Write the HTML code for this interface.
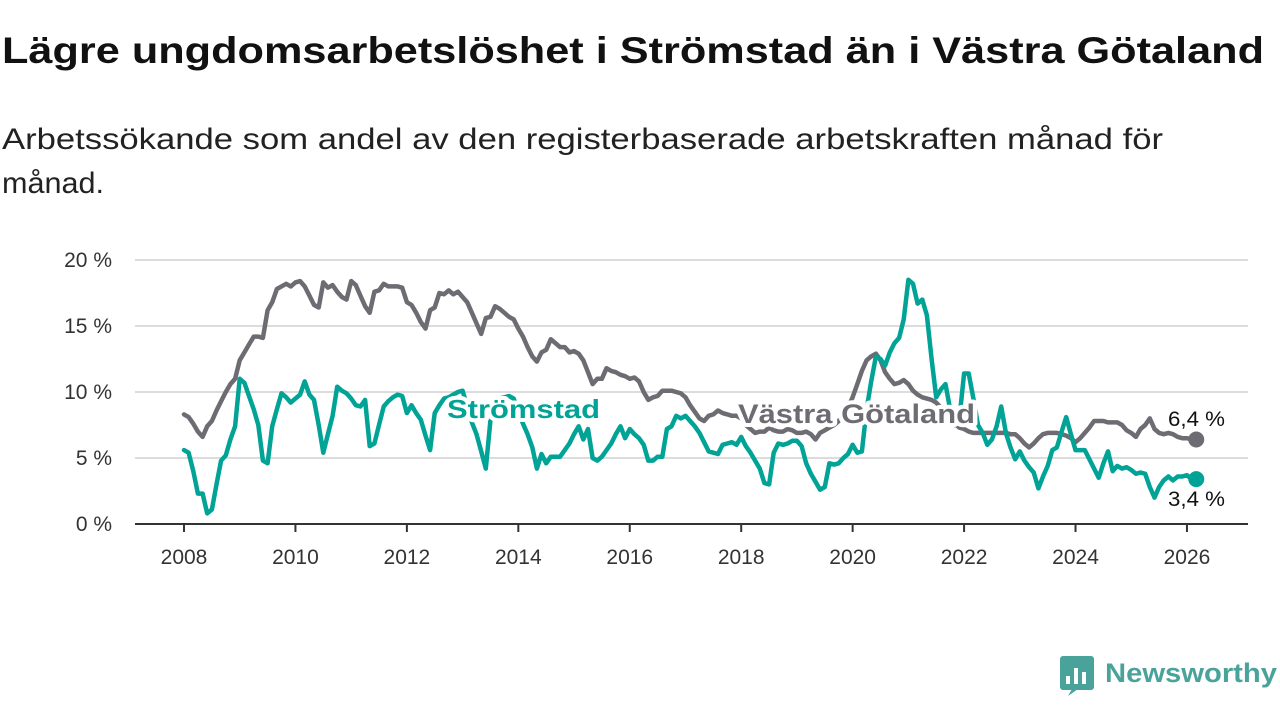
<!DOCTYPE html>
<html><head><meta charset="utf-8">
<style>
body{margin:0;width:1280px;height:720px;background:#fff;overflow:hidden;font-family:"Liberation Sans",sans-serif;}
svg{position:absolute;left:0;top:0}
</style></head><body>
<svg id="chart" width="1280" height="720">
<text x="2" y="63" font-size="37" font-weight="bold" fill="#111" textLength="1262" lengthAdjust="spacingAndGlyphs" font-family="Liberation Sans, sans-serif">Lägre ungdomsarbetslöshet i Strömstad än i Västra Götaland</text>
<text x="2" y="149" font-size="30" fill="#222" textLength="1161" lengthAdjust="spacingAndGlyphs" font-family="Liberation Sans, sans-serif">Arbetssökande som andel av den registerbaserade arbetskraften månad för</text>
<text x="2" y="193" font-size="30" fill="#222" textLength="102" lengthAdjust="spacingAndGlyphs" font-family="Liberation Sans, sans-serif">månad.</text>
</svg>
<script>
const startYear = 2008;
const yTicks = [0,5,10,15,20];
const yTickLabels = ["0 %","5 %","10 %","15 %","20 %"];
const xTicks = [2008,2010,2012,2014,2016,2018,2020,2022,2024,2026];
const vgValues = [
8.3,8.1,7.6,7.0,6.6,7.4,7.8,8.6,9.3,10.0,10.6,11.0,
12.4,13.0,13.6,14.2,14.2,14.1,16.2,16.8,17.8,18.0,18.2,18.0,
18.3,18.4,18.0,17.3,16.6,16.4,18.3,17.9,18.1,17.6,17.2,17.0,
18.4,18.1,17.3,16.5,16.0,17.6,17.7,18.2,18.0,18.0,18.0,17.9,
16.8,16.6,16.0,15.3,14.8,16.2,16.4,17.5,17.4,17.7,17.4,17.6,
17.2,16.8,16.0,15.2,14.4,15.6,15.7,16.5,16.3,16.0,15.7,15.5,
14.8,14.2,13.4,12.7,12.3,13.0,13.2,14.0,13.7,13.4,13.4,13.0,
13.1,12.9,12.4,11.5,10.6,11.0,11.0,11.8,11.6,11.5,11.3,11.2,
11.0,11.1,10.8,10.0,9.4,9.6,9.7,10.1,10.1,10.1,10.0,9.9,
9.6,9.0,8.5,8.0,7.8,8.2,8.3,8.6,8.4,8.3,8.2,8.2,
8.0,7.5,7.2,6.9,7.0,7.0,7.3,7.1,7.0,7.0,7.2,7.1,
6.9,6.9,7.0,6.8,6.4,6.9,7.1,7.3,7.5,7.8,8.3,8.8,
9.6,10.6,11.6,12.4,12.7,12.9,12.4,11.5,11.0,10.6,10.7,10.9,
10.6,10.1,9.8,9.6,9.5,9.4,9.2,8.8,8.4,8.0,7.6,7.3,
7.2,7.0,6.9,6.9,6.9,6.9,6.9,6.9,6.9,6.9,6.8,6.8,
6.5,6.1,5.8,6.1,6.5,6.8,6.9,6.9,6.9,6.8,6.7,6.5,
6.2,6.5,6.9,7.3,7.8,7.8,7.8,7.7,7.7,7.7,7.5,7.1,
6.9,6.6,7.2,7.5,8.0,7.2,6.9,6.8,6.9,6.8,6.6,6.5,
6.5,6.4,6.4];
const stValues = [
5.6,5.4,4.0,2.3,2.3,0.8,1.1,3.0,4.8,5.2,6.4,7.4,
11.0,10.7,9.7,8.7,7.5,4.8,4.6,7.4,8.7,9.9,9.6,9.2,
9.5,9.8,10.8,9.8,9.4,7.5,5.4,6.8,8.2,10.4,10.1,9.9,
9.5,9.0,8.9,9.4,5.9,6.1,7.5,8.9,9.3,9.6,9.8,9.7,
8.4,9.0,8.4,7.9,6.7,5.6,8.4,9.0,9.5,9.6,9.8,10.0,
10.1,8.9,7.7,6.8,5.5,4.2,7.9,8.8,9.5,9.6,9.7,9.5,
8.5,7.6,6.8,5.8,4.2,5.3,4.6,5.1,5.1,5.1,5.6,6.1,
6.8,7.4,6.4,7.2,5.0,4.8,5.1,5.6,6.1,6.8,7.4,6.5,
7.2,6.8,6.5,6.0,4.8,4.8,5.1,5.1,7.2,7.4,8.2,8.0,
8.2,7.8,7.4,6.9,6.2,5.5,5.4,5.3,6.0,6.1,6.2,6.0,
6.6,5.9,5.4,4.8,4.2,3.1,3.0,5.4,6.1,6.0,6.1,6.3,
6.3,5.9,4.6,3.8,3.2,2.6,2.8,4.6,4.5,4.6,5.0,5.3,
6.0,5.4,5.5,8.7,10.8,12.7,12.5,12.0,13.0,13.7,14.1,15.5,
18.5,18.2,16.7,17.0,15.8,12.5,9.6,10.2,10.6,8.7,7.5,8.0,
11.4,11.4,9.5,7.5,6.9,6.0,6.4,7.4,8.9,6.9,5.8,4.9,
5.5,4.8,4.3,3.9,2.7,3.6,4.4,5.6,5.8,7.0,8.1,6.8,
5.6,5.6,5.6,4.9,4.2,3.5,4.6,5.5,4.0,4.4,4.2,4.3,
4.1,3.8,3.9,3.8,2.8,2.0,2.8,3.3,3.6,3.3,3.6,3.6,
3.7,3.4,3.4];

const NS="http://www.w3.org/2000/svg";
const svg=document.getElementById('chart');
const X0=184, PXY=55.72, Y0=524, PXV=13.2;
function xScale(t){return X0+(t-2008)*PXY;}
function yScale(v){return Y0-v*PXV;}
function mk(tag,attrs,parent){const e=document.createElementNS(NS,tag);for(const k in attrs)e.setAttribute(k,attrs[k]);(parent||svg).appendChild(e);return e;}

yTicks.forEach((v,i)=>{
  const g=mk('line',{x1:135,x2:1248,y1:yScale(v),y2:yScale(v),stroke:'#dcdcdc','stroke-width':2});
  
  
  const t=mk('text',{x:112,y:yScale(v)+7,'text-anchor':'end','font-size':21,fill:'#333','font-family':'Liberation Sans, sans-serif'});
  t.textContent=yTickLabels[i];
  
  
});
const ax=mk('line',{x1:135,x2:1248,y1:Y0,y2:Y0,stroke:'#333','stroke-width':2});


xTicks.forEach(yr=>{
  const tk=mk('line',{x1:xScale(yr),x2:xScale(yr),y1:Y0,y2:Y0+8,stroke:'#333','stroke-width':2});
  
  
  const t=mk('text',{x:xScale(yr),y:564,'text-anchor':'middle','font-size':21,fill:'#333','font-family':'Liberation Sans, sans-serif'});
  t.textContent=yr;
  
  
});
function series(vals,color,name){
  const d=vals.map((v,i)=>(i?'L':'M')+xScale(startYear+i/12).toFixed(1)+' '+yScale(v).toFixed(1)).join(' ');
  const p=mk('path',{d:d,fill:'none',stroke:color,'stroke-width':4.5,'stroke-linejoin':'round','stroke-linecap':'round'});
  
  
  const n=vals.length-1;
  const c=mk('circle',{cx:xScale(startYear+n/12),cy:yScale(vals[n]),r:8,fill:color});
  
  
}
series(vgValues,'#6e6c73','vastra-gotaland-line');
series(stValues,'#00a396','stromstad-line');
function label(txt,x,y,color,size,weight,name,len){
  const a={x:x,y:y,'font-size':size,'font-weight':weight,fill:color,stroke:'#fff','stroke-width':8,'paint-order':'stroke','stroke-linejoin':'round','font-family':'Liberation Sans, sans-serif'};
  if(len){a.textLength=len;a.lengthAdjust='spacingAndGlyphs';}
  const t=mk('text',a);
  t.textContent=txt;
  
  
}
label('Strömstad',447,418,'#00a396',26,'bold','stromstad-label',153);
label('Västra Götaland',738,423,'#6e6c73',27,'bold','vastra-gotaland-label',237);
const nv=vgValues.length-1, ns=stValues.length-1;
label(String(vgValues[nv]).replace('.',',')+' %',1168,426,'#111',21,'normal','vastra-gotaland-value-label',57);
label(String(stValues[ns]).replace('.',',')+' %',1168,506,'#111',21,'normal','stromstad-value-label',57);

// logo
const lg=mk('g',{});


mk('rect',{x:1060,y:656,width:34,height:34,rx:3,fill:'#4aa39a'},lg);
mk('path',{d:'M1068 696 L1072 689 L1078 689 Z',fill:'#4aa39a'},lg);
mk('rect',{x:1066,y:676,width:4,height:8,fill:'#fff'},lg);
mk('rect',{x:1074,y:668,width:4,height:16,fill:'#fff'},lg);
mk('rect',{x:1082,y:672,width:4,height:12,fill:'#fff'},lg);
const lt=mk('text',{x:1105,y:682,'font-size':27,'font-weight':'bold',fill:'#4aa39a','font-family':'Liberation Sans, sans-serif',textLength:172,lengthAdjust:'spacingAndGlyphs'},lg);
lt.textContent='Newsworthy';


</script>
</body></html>
